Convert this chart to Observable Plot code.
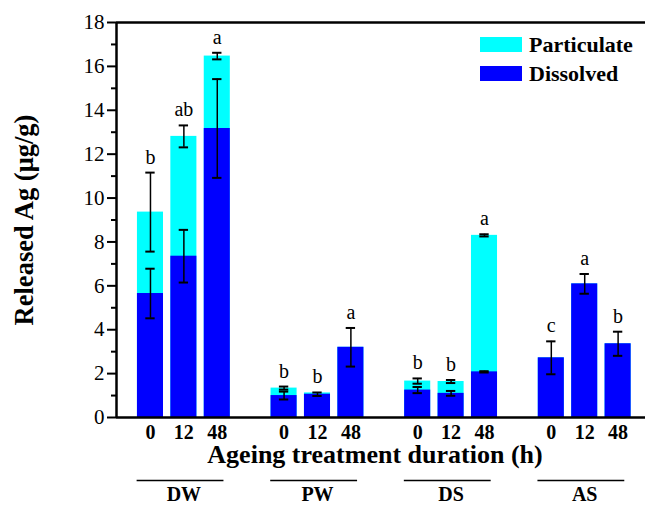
<!DOCTYPE html>
<html>
<head>
<meta charset="utf-8">
<script src="https://cdn.jsdelivr.net/npm/d3@7"></script>
<script src="https://cdn.jsdelivr.net/npm/@observablehq/plot@0.6"></script>
<style>
  body { margin: 0; background: #fff; }
  svg { font-family: "Liberation Serif", "Times New Roman", serif; }
</style>
</head>
<body>
<div id="chart"></div>
<script>
const groups = ["DW", "PW", "DS", "AS"];
const durations = ["0", "12", "48"];
const dissolved =    [5.65, 7.35, 13.17, 1.00, 1.06, 3.20, 1.25, 1.10, 2.08, 2.72, 6.09, 3.36];
const dissolvedErr = [1.13, 1.20, 2.25, 0.18, 0.08, 0.88, 0.14, 0.11, 0.03, 0.75, 0.45, 0.55];
const total =        [9.36, 12.81, 16.47, 1.34, 1.12, 3.20, 1.66, 1.64, 8.30, 2.72, 6.09, 3.36];
const totalErr =     [1.80, 0.50, 0.15, 0.07, 0, 0, 0.12, 0.07, 0.05, 0, 0, 0];
const letters = ["b", "ab", "a", "b", "b", "a", "b", "b", "a", "c", "a", "b"];
const seriesNames = ["Particulate", "Dissolved"];
const colors = ["#00ffff", "#0000ff"];

const data = dissolved.map((v, i) => {
  const g = Math.floor(i / 3), d = i % 3;
  return {
    group: groups[g], duration: durations[d], slot: g * 4 + d,
    dissolved: v, dErr: dissolvedErr[i], total: total[i], tErr: totalErr[i],
    letter: letters[i]
  };
});
const errs = [];
data.forEach(d => {
  errs.push({slot: d.slot, lo: d.dissolved - d.dErr, hi: d.dissolved + d.dErr});
  if (d.tErr > 0) errs.push({slot: d.slot, lo: d.total - d.tErr, hi: d.total + d.tErr});
});
const tops = data.map(d => ({slot: d.slot, letter: d.letter,
  y: Math.max(d.dissolved + d.dErr, d.total + d.tErr)}));
const groupInfo = groups.map((g, i) => ({name: g, first: i * 4, mid: i * 4 + 1, last: i * 4 + 2}));

const hw = 0.39, cap = 0.14;
const plot = Plot.plot({
  width: 646, height: 506,
  marginLeft: 116, marginRight: 1, marginTop: 22, marginBottom: 89,
  style: {fontFamily: "'Liberation Serif', 'Times New Roman', serif", background: "#fff", overflow: "visible"},
  x: {type: "linear", domain: [-1.017, 14.82], axis: null},
  y: {domain: [0, 18], axis: null},
  marks: [
    Plot.rectY(data, {x1: d => d.slot - hw, x2: d => d.slot + hw, y1: 0, y2: "total", fill: colors[0]}),
    Plot.rectY(data, {x1: d => d.slot - hw, x2: d => d.slot + hw, y1: 0, y2: "dissolved", fill: colors[1]}),
    Plot.ruleX(errs, {x: "slot", y1: "lo", y2: "hi", stroke: "#000", strokeWidth: 1.5}),
    Plot.ruleY(errs, {y: "hi", x1: d => d.slot - cap, x2: d => d.slot + cap, stroke: "#000", strokeWidth: 2}),
    Plot.ruleY(errs, {y: "lo", x1: d => d.slot - cap, x2: d => d.slot + cap, stroke: "#000", strokeWidth: 2}),
    Plot.text(tops, {x: "slot", y: "y", text: "letter", dy: -9, lineAnchor: "bottom", fontSize: 20, fill: "#000"}),
    Plot.axisY(d3.range(0, 19, 2), {tickSize: 9, tickPadding: 3, fontSize: 21, strokeWidth: 2, label: null, fill: "#000"}),
    Plot.axisY(d3.range(1, 18, 2), {tickSize: 5, tickFormat: () => "", strokeWidth: 2, label: null}),
    Plot.axisX(data.map(d => d.slot), {tickSize: 0, tickPadding: 7, fontSize: 20, fontWeight: "bold",
      tickFormat: s => durations[s % 4], label: null, fill: "#000"}),
    Plot.ruleY([0, 18], {stroke: "#000", strokeWidth: 2.5}),
    Plot.ruleX([-1.017], {stroke: "#000", strokeWidth: 2.5}),
    Plot.text(["Ageing treatment duration (h)"], {frameAnchor: "bottom", dx: -6, dy: 37,
      lineAnchor: "middle", textAnchor: "middle",
      fontSize: 26, fontWeight: "bold", fill: "#000"}),
    Plot.text(["Released Ag (μg/g)"], {frameAnchor: "left", dx: -92, rotate: -90,
      lineAnchor: "middle", textAnchor: "middle",
      fontSize: 26.5, fontWeight: "bold", fill: "#000"}),
    Plot.ruleY(groupInfo, {y: () => 0, x1: d => d.first - 0.4, x2: d => d.last + 0.2, dy: 63, stroke: "#000", strokeWidth: 1.5}),
    Plot.text(groupInfo, {x: "mid", y: () => 0, text: "name", dy: 77, fontSize: 20, fontWeight: "bold", fill: "#000"})
  ]
});

// legend inside the plot area
const svg = d3.select(plot);
const leg = svg.append("g").attr("transform", "translate(480,37)");
seriesNames.forEach((name, i) => {
  const g = leg.append("g").attr("transform", `translate(0,${i * 29})`);
  g.append("rect").attr("width", 42).attr("height", 15).attr("fill", colors[i]);
  g.append("text").attr("x", 49).attr("y", 14.5)
    .attr("text-anchor", "start")
    .attr("font-size", 22).attr("font-weight", "bold").attr("fill", "#000")
    .text(name);
});

document.getElementById("chart").appendChild(plot);
</script>
</body>
</html>
